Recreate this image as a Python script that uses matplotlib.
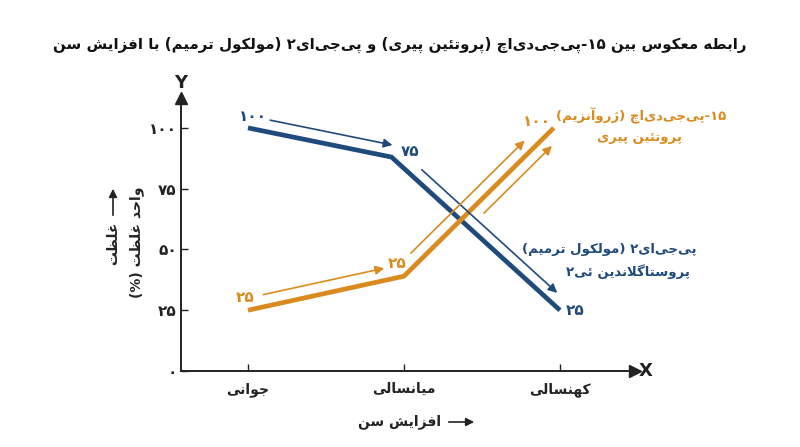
import matplotlib
matplotlib.use('Agg')
import matplotlib.pyplot as plt
import numpy as np

# ---------------- data ----------------
categories = ["جوانی", "میانسالی", "کهنسالی"]
cat_pos = [0, 1, 2]
blue_x = [0, 0.92, 2]
blue_y = [100, 88, 25]
orange_x = [0, 1, 1.96]
orange_y = [25, 39, 100]
blue_point_labels = ["۱۰۰", "۷۵", "۲۵"]
orange_point_labels = ["۲۵", "۲۵", "۱۰۰"]
y_ticks = [0, 25, 50, 75, 100]
y_tick_labels = ["۰", "۲۵", "۵۰", "۷۵", "۱۰۰"]
title = "رابطه معکوس بین ۱۵-پی\u200cجی\u200cدی\u200cاچ (پروتئین پیری) و پی\u200cجی\u200cای۲ (مولکول ترمیم) با افزایش سن"
x_label = "افزایش سن"
y_label_1 = "غلظت"
y_label_2 = "واحد غلظت (%)"
orange_name = ["۱۵-پی\u200cجی\u200cدی\u200cاچ (ژروآنزیم)", "پروتئین پیری"]
blue_name = ["پی\u200cجی\u200cای۲ (مولکول ترمیم)", "پروستاگلاندین ئی۲"]

BLUE = "#1F4A7C"
ORANGE = "#D98B1F"
AXC = "#222222"

# ---------------- simple Persian shaping ----------------
F = {
    '\u0627': ('\uFE8D', '\uFE8E', None, None),
    '\u0622': ('\uFE81', '\uFE82', None, None),
    '\u062F': ('\uFEA9', '\uFEAA', None, None),
    '\u0630': ('\uFEAB', '\uFEAC', None, None),
    '\u0631': ('\uFEAD', '\uFEAE', None, None),
    '\u0632': ('\uFEAF', '\uFEB0', None, None),
    '\u0698': ('\uFB8A', '\uFB8B', None, None),
    '\u0648': ('\uFEED', '\uFEEE', None, None),
    '\u0628': ('\uFE8F', '\uFE90', '\uFE91', '\uFE92'),
    '\u067E': ('\uFB56', '\uFB57', '\uFB58', '\uFB59'),
    '\u062A': ('\uFE95', '\uFE96', '\uFE97', '\uFE98'),
    '\u062B': ('\uFE99', '\uFE9A', '\uFE9B', '\uFE9C'),
    '\u062C': ('\uFE9D', '\uFE9E', '\uFE9F', '\uFEA0'),
    '\u0686': ('\uFB7A', '\uFB7B', '\uFB7C', '\uFB7D'),
    '\u062D': ('\uFEA1', '\uFEA2', '\uFEA3', '\uFEA4'),
    '\u062E': ('\uFEA5', '\uFEA6', '\uFEA7', '\uFEA8'),
    '\u0633': ('\uFEB1', '\uFEB2', '\uFEB3', '\uFEB4'),
    '\u0634': ('\uFEB5', '\uFEB6', '\uFEB7', '\uFEB8'),
    '\u0635': ('\uFEB9', '\uFEBA', '\uFEBB', '\uFEBC'),
    '\u0636': ('\uFEBD', '\uFEBE', '\uFEBF', '\uFEC0'),
    '\u0637': ('\uFEC1', '\uFEC2', '\uFEC3', '\uFEC4'),
    '\u0638': ('\uFEC5', '\uFEC6', '\uFEC7', '\uFEC8'),
    '\u0639': ('\uFEC9', '\uFECA', '\uFECB', '\uFECC'),
    '\u063A': ('\uFECD', '\uFECE', '\uFECF', '\uFED0'),
    '\u0641': ('\uFED1', '\uFED2', '\uFED3', '\uFED4'),
    '\u0642': ('\uFED5', '\uFED6', '\uFED7', '\uFED8'),
    '\u06A9': ('\uFB8E', '\uFB8F', '\uFB90', '\uFB91'),
    '\u06AF': ('\uFB92', '\uFB93', '\uFB94', '\uFB95'),
    '\u0644': ('\uFEDD', '\uFEDE', '\uFEDF', '\uFEE0'),
    '\u0645': ('\uFEE1', '\uFEE2', '\uFEE3', '\uFEE4'),
    '\u0646': ('\uFEE5', '\uFEE6', '\uFEE7', '\uFEE8'),
    '\u0647': ('\uFEE9', '\uFEEA', '\uFEEB', '\uFEEC'),
    '\u06CC': ('\uFBFC', '\uFBFD', '\uFBFE', '\uFBFF'),
    '\u0626': ('\uFE89', '\uFE8A', '\uFE8B', '\uFE8C'),
}
LAMALEF = {'\u0627': ('\uFEFB', '\uFEFC'), '\u0622': ('\uFEF5', '\uFEF6')}
MIRROR = {'(': ')', ')': '('}


def joins_next(c):
    return c in F and F[c][2] is not None


def shape(text):
    res = []
    n = len(text)
    i = 0
    while i < n:
        c = text[i]
        if c not in F:
            if c != '\u200c':
                res.append(c)
            i += 1
            continue
        prev = text[i - 1] if i > 0 else None
        nxt = text[i + 1] if i + 1 < n else None
        cp = prev is not None and joins_next(prev)
        if c == '\u0644' and nxt in LAMALEF:
            res.append(LAMALEF[nxt][1] if cp else LAMALEF[nxt][0])
            i += 2
            continue
        cn = joins_next(c) and nxt is not None and nxt in F
        iso, fin, ini, med = F[c]
        if cp and cn:
            res.append(med)
        elif cp:
            res.append(fin)
        elif cn:
            res.append(ini)
        else:
            res.append(iso)
        i += 1
    # visual reorder (RTL base, keep digit runs LTR)
    def ltr(ch):
        return ch.isdigit() or ('a' <= ch.lower() <= 'z')
    runs = []
    for ch in res:
        if runs and ltr(ch) and ltr(runs[-1][-1]):
            runs[-1] += ch
        else:
            runs.append(ch)
    out = []
    for r in reversed(runs):
        out.append(MIRROR.get(r, r))
    return ''.join(out)


# ---------------- figure ----------------
W, H = 800, 447
fig = plt.figure(figsize=(W / 100, H / 100), dpi=100)
ax = fig.add_axes([181 / W, (H - 371) / H, (635 - 181) / W, (371 - 98) / H])
ax.set_xlim(-0.4295, 2.481)
ax.set_ylim(0, 112.3)

for s in ['top', 'right']:
    ax.spines[s].set_visible(False)
for s in ['left', 'bottom']:
    ax.spines[s].set_color(AXC)
    ax.spines[s].set_linewidth(1.4)
ax.plot(1, 0, marker='>', color=AXC, markersize=8, transform=ax.transAxes, clip_on=False)
ax.plot(0, 1, marker='^', color=AXC, markersize=8, transform=ax.transAxes, clip_on=False)

FONT = 'DejaVu Sans'
ax.set_xticks(cat_pos)
ax.set_xticklabels([shape(c) for c in categories], fontsize=10, fontweight='bold', family=FONT)
ax.set_yticks(y_ticks)
ax.set_yticklabels([shape(t) for t in y_tick_labels], fontsize=11, fontweight='bold', family=FONT)
ax.tick_params(axis='both', direction='in', length=5, width=1, color=AXC, labelcolor=AXC)
ax.tick_params(axis='x', pad=8)
ax.tick_params(axis='y', pad=3)

ax.plot(blue_x, blue_y, color=BLUE, lw=3.4, solid_capstyle='butt', solid_joinstyle='miter', clip_on=False)
ax.plot(orange_x, orange_y, color=ORANGE, lw=3.4, solid_capstyle='butt', solid_joinstyle='miter', clip_on=False)

# point labels
blue_offsets = [(5, 11), (19, 6), (15, 0)]
orange_offsets = [(-3, 13), (-7, 13), (-17, 6)]
for x, y, lab, off in zip(blue_x, blue_y, blue_point_labels, blue_offsets):
    ax.annotate(shape(lab), (x, y), xytext=off, textcoords='offset pixels', ha='center', va='center',
                color=BLUE, fontsize=11, fontweight='bold', family=FONT)
for x, y, lab, off in zip(orange_x, orange_y, orange_point_labels, orange_offsets):
    ax.annotate(shape(lab), (x, y), xytext=off, textcoords='offset pixels', ha='center', va='center',
                color=ORANGE, fontsize=11, fontweight='bold', family=FONT)


# direction arrows parallel to segments
def seg_arrow(xs, ys, i, t0, t1, off, color):
    p0 = ax.transData.transform((xs[i], ys[i]))
    p1 = ax.transData.transform((xs[i + 1], ys[i + 1]))
    d = p1 - p0
    u = d / np.hypot(*d)
    nrm = np.array([-u[1], u[0]])
    a = p0 + d * t0 + nrm * off
    b = p0 + d * t1 + nrm * off
    ax.annotate('', xy=tuple(b), xytext=tuple(a), xycoords='figure pixels', textcoords='figure pixels',
                arrowprops=dict(arrowstyle='-|>', color=color, lw=1.2, mutation_scale=13,
                                shrinkA=0, shrinkB=0))


for spec in [(0, 0.138, 0.99, 12), (1, 0.136, 0.94, 11)]:
    seg_arrow(blue_x, blue_y, *spec, BLUE)
for spec in [(0, 0.115, 0.89, 12), (1, 0.10, 0.86, 11.5), (1, 0.48, 0.934, -11.5)]:
    seg_arrow(orange_x, orange_y, *spec, ORANGE)

# series names
NAME_FS = 9.5
fig.text(641 / W, 1 - 116 / H, shape(orange_name[0]), ha='center', va='center', color=ORANGE,
         fontsize=NAME_FS, fontweight='bold', family=FONT)
fig.text(639 / W, 1 - 138 / H, shape(orange_name[1]), ha='center', va='center', color=ORANGE,
         fontsize=NAME_FS, fontweight='bold', family=FONT)
fig.text(696 / W, 1 - 250 / H, shape(blue_name[0]), ha='right', va='center', color=BLUE,
         fontsize=NAME_FS, fontweight='bold', family=FONT)
fig.text(690 / W, 1 - 272 / H, shape(blue_name[1]), ha='right', va='center', color=BLUE,
         fontsize=NAME_FS, fontweight='bold', family=FONT)

# axis letters
fig.text(181 / W, 1 - 83 / H, "Y", ha='center', va='center', fontsize=13, fontweight='bold', color=AXC, family=FONT)
fig.text(646 / W, 1 - 371 / H, "X", ha='center', va='center', fontsize=13, fontweight='bold', color=AXC, family=FONT)

# title
fig.text(400 / W, 1 - 45 / H, shape(title), ha='center', va='center', fontsize=10.8, fontweight='bold',
         color='#111111', family=FONT)

# x label with arrow
fig.text(400 / W, 1 - 422 / H, shape(x_label), ha='center', va='center', fontsize=10, fontweight='bold',
         color=AXC, family=FONT)
fig.add_artist(matplotlib.patches.FancyArrowPatch((446 / W, 1 - 422 / H), (477 / W, 1 - 422 / H),
               transform=fig.transFigure, arrowstyle='-|>', mutation_scale=12, lw=1.2, color=AXC))

# y label (rotated, two columns) with arrow
fig.text(113 / W, 1 - 243 / H, shape(y_label_1), rotation=90, ha='center', va='center', fontsize=10,
         fontweight='bold', color=AXC, family=FONT)
fig.add_artist(matplotlib.patches.FancyArrowPatch((113 / W, 1 - 218 / H), (113 / W, 1 - 186 / H),
               transform=fig.transFigure, arrowstyle='-|>', mutation_scale=12, lw=1.2, color=AXC))
fig.text(137 / W, 1 - 242 / H, shape(y_label_2), rotation=90, ha='center', va='center', fontsize=10,
         fontweight='bold', color=AXC, family=FONT)

fig.savefig('out.png', dpi=100)
